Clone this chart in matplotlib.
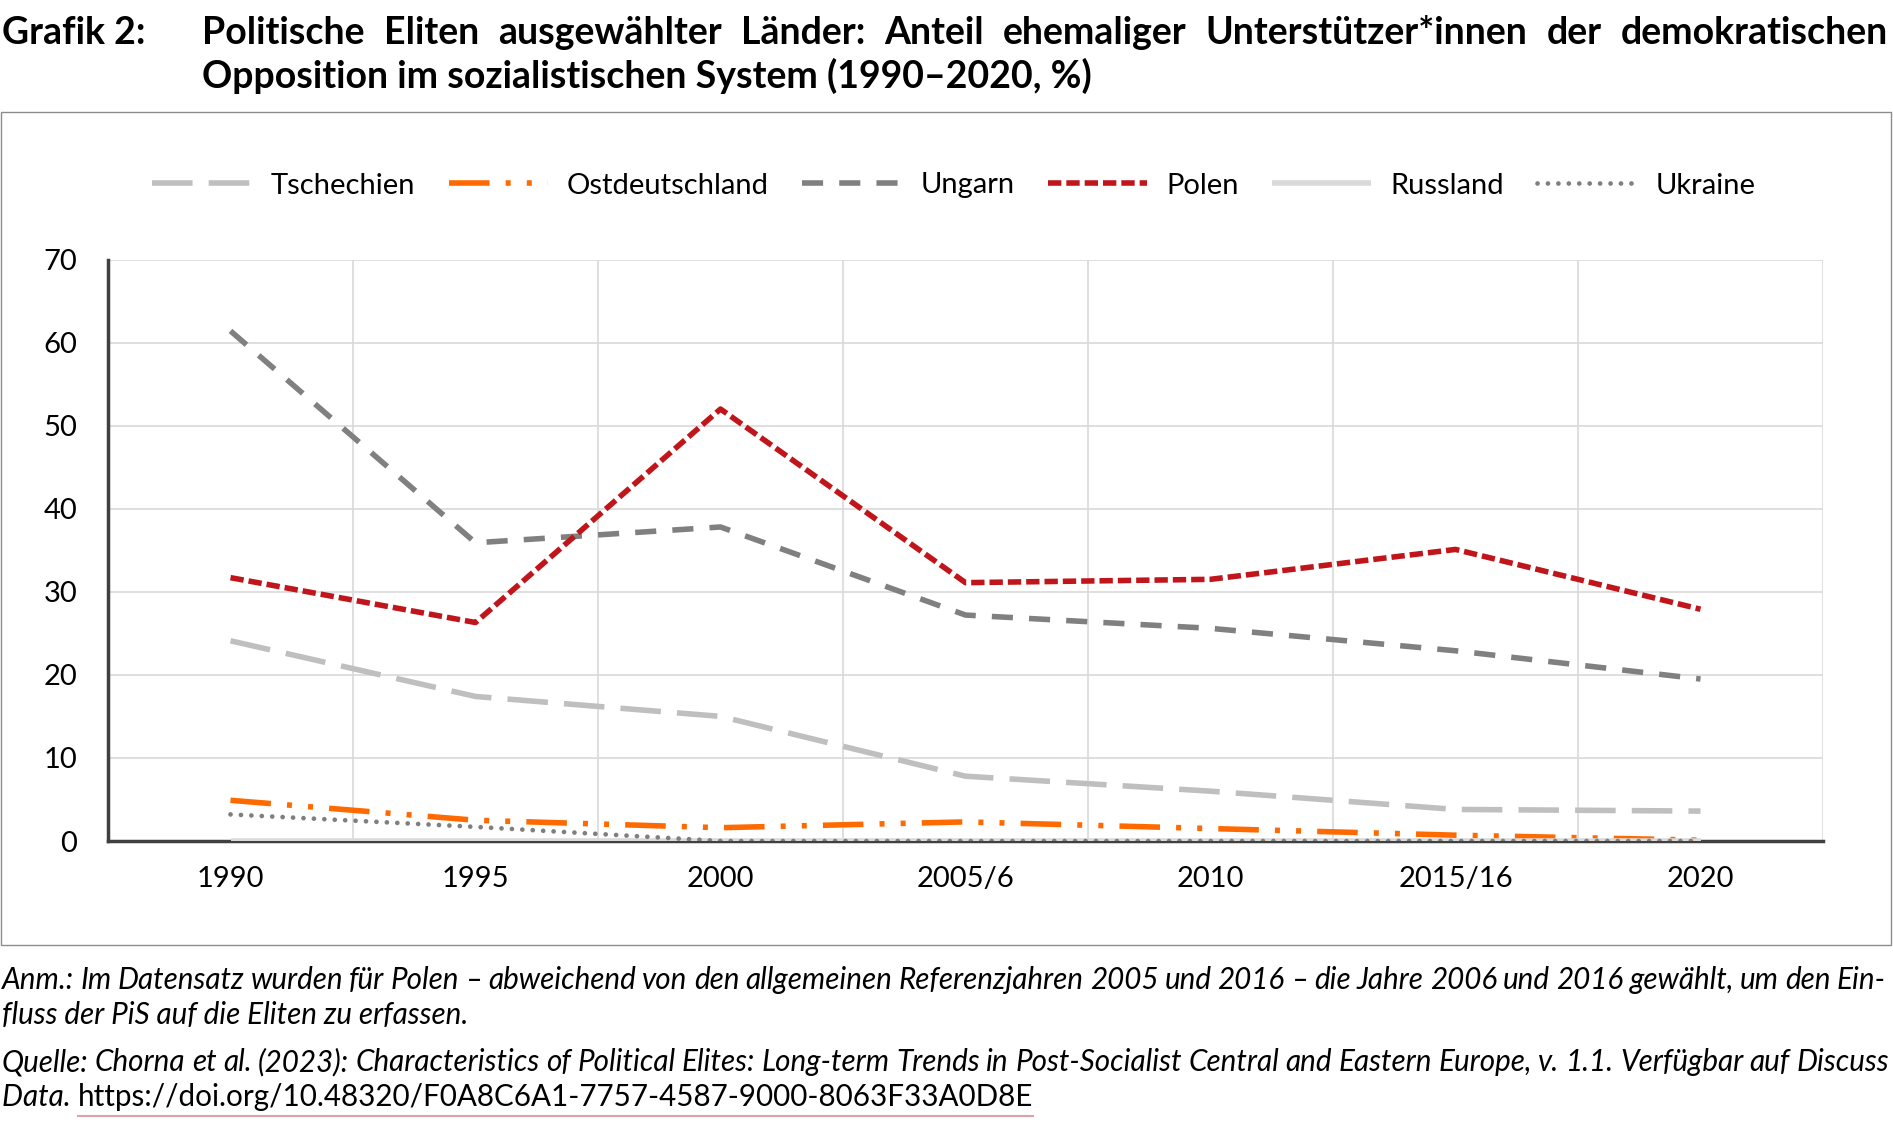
import matplotlib.pyplot as plt
import matplotlib as mpl
from matplotlib.patches import Rectangle
from matplotlib.lines import Line2D

mpl.rcParams["font.family"] = ["Lato", "DejaVu Sans"]

categories = ["1990", "1995", "2000", "2005/6", "2010", "2015/16", "2020"]
tschechien = [24.1, 17.4, 15.0, 7.8, 6.0, 3.8, 3.6]
ostdeutschland = [4.9, 2.5, 1.6, 2.3, 1.5, 0.7, 0.1]
ungarn = [61.4, 35.9, 37.8, 27.2, 25.6, 22.9, 19.5]
polen = [31.7, 26.3, 52.0, 31.1, 31.5, 35.1, 27.9]
russland = [0, 0, 0, 0, 0, 0, 0]
ukraine = [3.2, 1.7, 0, 0, 0, 0, 0]
yticks = [0, 10, 20, 30, 40, 50, 60, 70]

W, H = 1893, 1126
fig = plt.figure(figsize=(W / 100, H / 100), dpi=100)

def fx(px):
    return px / W

def fy(py):
    return 1 - py / H

# outer frame around chart area
fig.patches.append(Rectangle((fx(1), fy(945)), fx(1890), (945 - 112) / H,
                             transform=fig.transFigure, fill=False,
                             edgecolor="#8c8c8c", linewidth=1))

ax = fig.add_axes([fx(108), fy(841), fx(1823 - 108), (841 - 259.5) / H])
x = list(range(len(categories)))

# name, values, colour, linestyle, width
series = [
    ("Tschechien", tschechien, "#bfbfbf", (0, (7.3, 2.9)), 4.0),
    ("Ostdeutschland", ostdeutschland, "#ff6a00", (0, (7.3, 2.9, 0.9, 2.9, 0.9, 2.9)), 4.0),
    ("Ungarn", ungarn, "#808080", (0, (3.8, 2.9)), 4.0),
    ("Polen", polen, "#c0161b", (0, (2.4, 0.9)), 4.0),
    ("Russland", russland, "#d9d9d9", "-", 4.0),
    ("Ukraine", ukraine, "#7f7f7f", (0, (0.01, 2.2)), 3.4),
]
handles = []
for name, vals, col, ls, lw in series:
    cap = "round" if name == "Ukraine" else "butt"
    ln, = ax.plot(x, vals, color=col, linestyle=ls, linewidth=lw,
                  dash_capstyle=cap, solid_capstyle="butt", label=name,
                  zorder=3)
    handles.append(ln)

ax.set_xlim(-0.5, len(categories) - 0.5)
ax.set_ylim(0, 70)
ax.set_yticks(yticks)
ax.set_xticks(x)
ax.set_xticklabels(categories)
ax.set_xticks([i + 0.5 for i in range(-1, len(categories))], minor=True)
ax.grid(axis="y", color="#d9d9d9", linewidth=1.2)
ax.grid(axis="x", which="minor", color="#d9d9d9", linewidth=1.2)
ax.set_axisbelow(True)
for s in ["top", "right"]:
    ax.spines[s].set_visible(False)
for s in ["left", "bottom"]:
    ax.spines[s].set_color("#404040")
    ax.spines[s].set_linewidth(2.5)
ax.tick_params(which="both", length=0, labelsize=21, colors="black")
ax.tick_params(axis="y", pad=22)
ax.tick_params(axis="x", pad=18)

fig.legend(handles=handles, loc="center", bbox_to_anchor=(954 / W, fy(185.5)),
           ncol=6, frameon=False, fontsize=21, handlelength=3.4,
           columnspacing=1.15, handletextpad=0.65)

fig.canvas.draw()
renderer = fig.canvas.get_renderer()


def justify(text, x0, x1, y, **kw):
    words = text.split(" ")
    items = [fig.text(0, 0, w, **kw) for w in words]
    widths = [t.get_window_extent(renderer).width for t in items]
    gap = (x1 - x0 - sum(widths)) / (len(words) - 1)
    pos = x0
    for t, w in zip(items, widths):
        t.set_position((fx(pos), fy(y)))
        t.set_va("center")
        pos += w + gap


title_kw = dict(fontsize=27, fontweight="bold", color="black")
fig.text(fx(2), fy(33), "Grafik 2:", va="center", **title_kw)
justify("Politische Eliten ausgewählter Länder: Anteil ehemaliger "
        "Unterstützer*innen der demokratischen", 202, 1888, 33, **title_kw)
fig.text(fx(202), fy(76), "Opposition im sozialistischen System (1990–2020, %)",
         va="center", **title_kw)

note_kw = dict(fontsize=21.3, style="italic", color="black")
justify("Anm.: Im Datensatz wurden für Polen – abweichend von den allgemeinen "
        "Referenzjahren 2005 und 2016 – die Jahre 2006 und 2016 gewählt, um den Ein-",
        2, 1886, 980, **note_kw)
fig.text(fx(2), fy(1015), "fluss der PiS auf die Eliten zu erfassen.",
         va="center", **note_kw)
justify("Quelle: Chorna et al. (2023): Characteristics of Political Elites: "
        "Long-term Trends in Post-Socialist Central and Eastern Europe, v. 1.1. "
        "Verfügbar auf Discuss", 2, 1889, 1062, **note_kw)
t1 = fig.text(fx(2), fy(1097), "Data. ", va="center", **note_kw)
w1 = t1.get_window_extent(renderer).width
url = fig.text(fx(2 + w1), fy(1097), "https://doi.org/10.48320/F0A8C6A1-7757-4587-9000-8063F33A0D8E",
               va="center", fontsize=21.3, color="black")
wu = url.get_window_extent(renderer).width
fig.add_artist(Line2D([fx(2 + w1), fx(2 + w1 + wu)], [fy(1116), fy(1116)],
                      transform=fig.transFigure, color="#e0a0a8", linewidth=1.5))

fig.savefig("out.png", dpi=100)
